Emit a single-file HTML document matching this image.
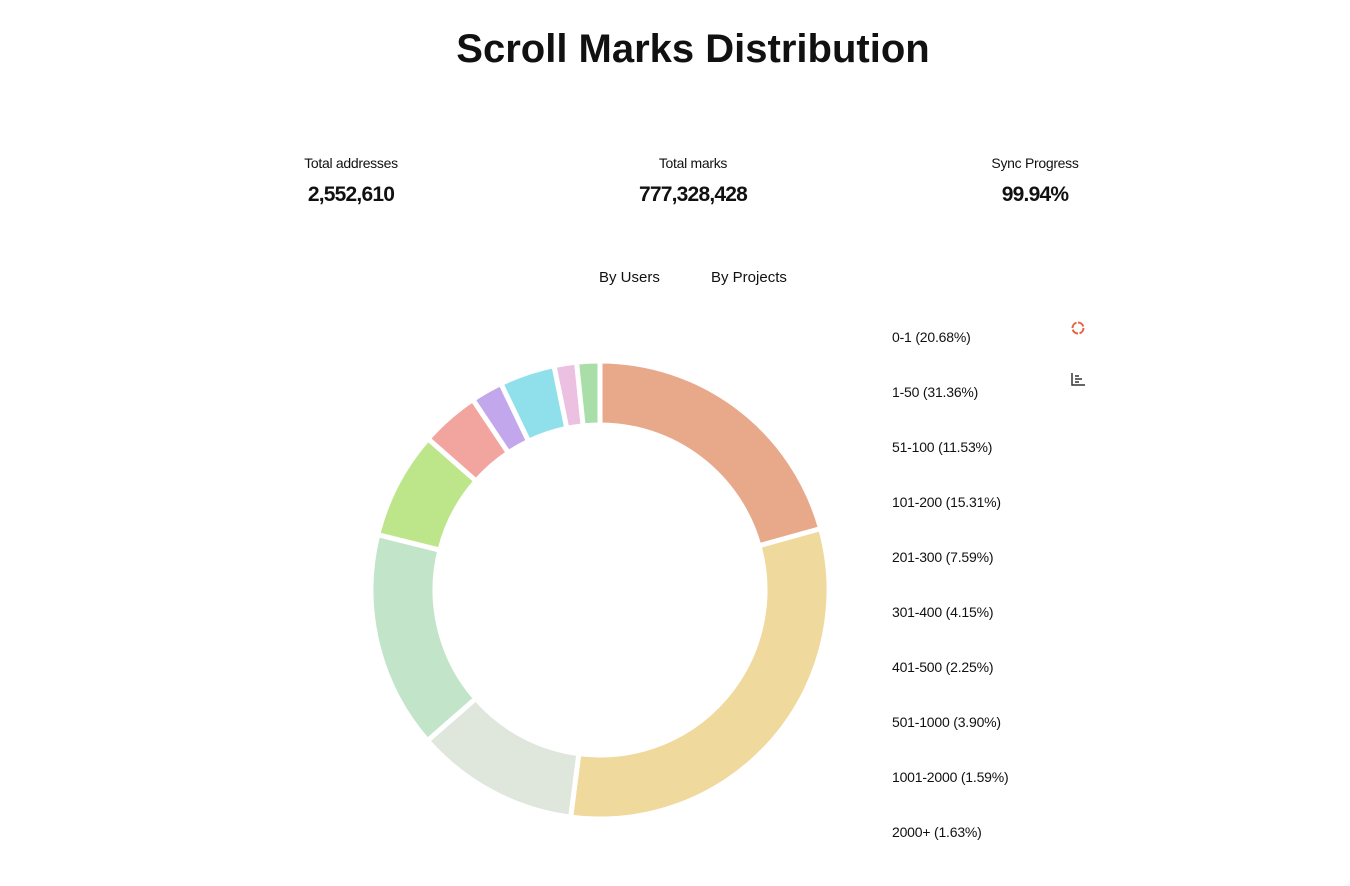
<!DOCTYPE html>
<html><head><meta charset="utf-8"><style>
body{margin:0;width:1350px;height:886px;background:#fff;font-family:"Liberation Sans",sans-serif;color:#111;overflow:hidden;position:relative}
.t{position:absolute;white-space:nowrap}
.lbl{font-size:14px;transform:translateX(-50%);letter-spacing:-0.3px}
.val{font-size:21px;font-weight:bold;transform:translateX(-50%);letter-spacing:-0.8px}
.leg{font-size:14px;left:892px;letter-spacing:-0.2px}
</style></head><body>
<div class="t" style="left:0;width:1386px;text-align:center;top:27px;font-size:40px;font-weight:bold;">Scroll Marks Distribution</div>
<div class="t lbl" style="left:351px;top:155px">Total addresses</div>
<div class="t val" style="left:351px;top:183px">2,552,610</div>
<div class="t lbl" style="left:693px;top:155px">Total marks</div>
<div class="t val" style="left:693px;top:183px">777,328,428</div>
<div class="t lbl" style="left:1035px;top:155px">Sync Progress</div>
<div class="t val" style="left:1035px;top:183px">99.94%</div>
<div class="t" style="left:599px;top:269px;font-size:15px">By Users</div>
<div class="t" style="left:711px;top:269px;font-size:15px">By Projects</div>
<svg style="position:absolute;left:1070px;top:320px" width="16" height="16"><circle cx="8" cy="8" r="5.5" fill="none" stroke="#e8623a" stroke-width="2" stroke-dasharray="7 1.6"/></svg>
<svg style="position:absolute;left:1070px;top:371px" width="16" height="16"><path d="M2 2V14H15M5 5H9M5 8H12M5 11H9" fill="none" stroke="#333" stroke-width="1.5"/></svg>
<svg id="donut" style="position:absolute;left:0;top:0" width="1350" height="886"></svg>
<div id="legend"></div>
<script>
const categories=["0-1","1-50","51-100","101-200","201-300","301-400","401-500","501-1000","1001-2000","2000+"];
const values=[20.68,31.36,11.53,15.31,7.59,4.15,2.25,3.90,1.59,1.63];
const colors=["#e8a98a","#f0d99c","#dfe6dc","#c2e4c9","#bde58a","#f2a59e","#c3a7ec","#90e0ec","#ebc0e0","#a9dea9"];
const svg=document.getElementById('donut');
const cx=600,cy=590,R=229,r=165;
const total=values.reduce((a,b)=>a+b,0);
let a0=0;
function pt(a,rad){return [cx+rad*Math.sin(a),cy-rad*Math.cos(a)];}
values.forEach((v,i)=>{
  const a1=a0+v/total*2*Math.PI;
  const p1=pt(a0,R),p2=pt(a1,R),p3=pt(a1,r),p4=pt(a0,r);
  const lg=(a1-a0)>Math.PI?1:0;
  const p=document.createElementNS('http://www.w3.org/2000/svg','path');
  p.setAttribute('d',`M${p1}A${R},${R} 0 ${lg} 1 ${p2}L${p3}A${r},${r} 0 ${lg} 0 ${p4}Z`);
  p.setAttribute('fill',colors[i]);p.setAttribute('stroke','#fff');p.setAttribute('stroke-width','5');p.setAttribute('stroke-linejoin','round');
  
  
  svg.appendChild(p);
  a0=a1;
});
const leg=document.getElementById('legend');
categories.forEach((c,i)=>{
  const d=document.createElement('div');
  d.className='t leg';d.style.top=(329+i*55)+'px';
  d.textContent=c+' ('+values[i].toFixed(2)+'%)';
  
  
  leg.appendChild(d);
});
</script>
</body></html>
